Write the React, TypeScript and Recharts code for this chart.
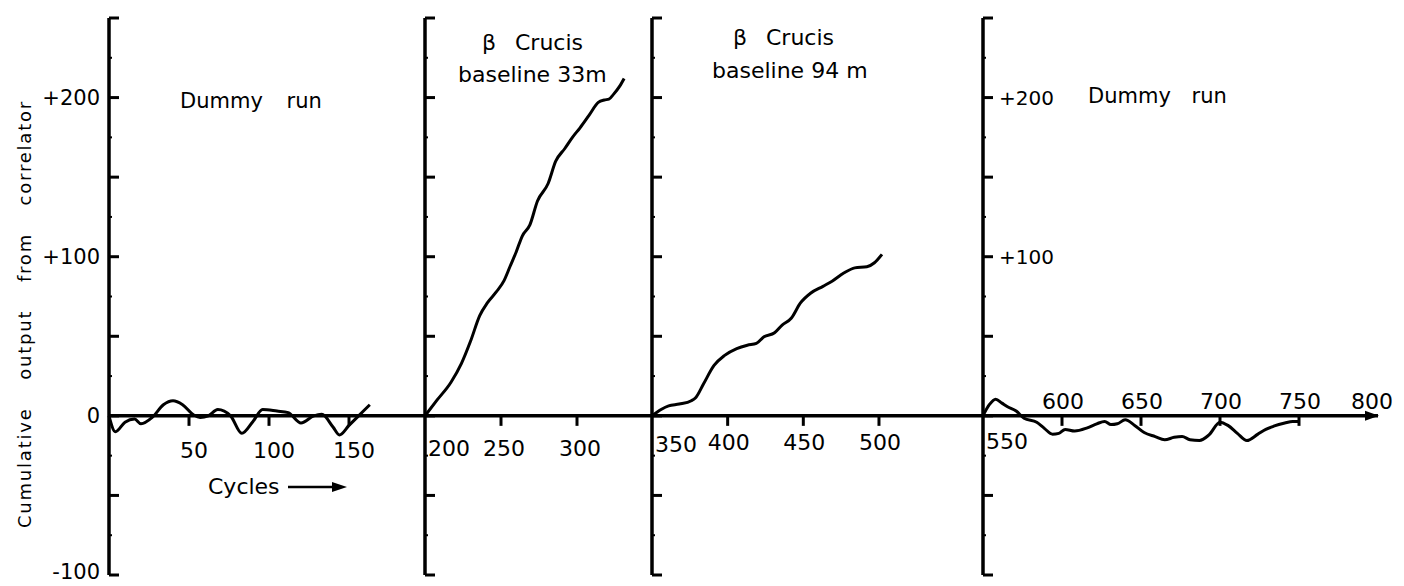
import React from 'react';
import { ComposedChart, Line, XAxis, YAxis, ReferenceLine, ReferenceDot } from 'recharts';

// Cumulative correlator output vs cycles

// left "Dummy run"
const dummyRunACycles = [0, 4, 10, 16, 20, 27, 34, 40, 46, 53, 57, 62, 68, 76, 83, 90, 96, 105, 112, 120, 128, 133, 140, 144, 150, 156, 163];
const dummyRunAOutput = [0, -10, -4, -2, -5, -1, 7, 9.5, 7, 0.5, -1, 0, 4, 0, -11, -3.5, 4, 3, 2, -4.5, 0, 1, -7, -12, -6, 0, 7];

// β Crucis, baseline 33 m
const crucis33Cycles = [200, 208, 217, 224, 230, 236, 241, 247, 252, 256, 260, 264, 269, 274, 281, 286, 292, 297, 302, 308, 314, 318, 321, 324, 328, 331];
const crucis33Output = [0, 10, 21, 33, 47, 63, 71, 78, 85, 94, 103, 113, 120, 135, 146, 160, 168, 175, 181, 189, 197, 198.5, 199, 202, 207, 212];

// β Crucis, baseline 94 m
const crucis94Cycles = [350, 356, 361, 368, 376, 379, 384, 391, 398, 406, 413, 419, 424, 431, 436, 442, 448, 455, 463, 469, 477, 484, 492, 497, 502];
const crucis94Output = [0, 4, 6.3, 7.4, 9.5, 11.6, 20, 31.7, 38, 42.3, 44.4, 45.5, 49.7, 52.2, 57, 61.3, 70.8, 77.2, 81.4, 84.6, 89.9, 93, 93.7, 96.2, 101.5];

// right "Dummy run"
const dummyRunBCycles = [550, 554, 558, 562, 565, 571, 576, 584, 589, 594, 598, 602, 608, 616, 622, 627, 631, 635, 640, 646, 652, 659, 665, 671, 676, 681, 687, 693, 700, 705, 711, 717, 724, 729, 734, 741, 746, 750];
const dummyRunBOutput = [0, 7, 10.5, 8, 6, 3, -1.5, -4, -8, -11.5, -11, -8.5, -9.5, -7.5, -5, -3.5, -5.5, -5, -2.5, -6, -10.5, -13, -15, -13.5, -13, -15, -15.5, -12, -4, -6, -11, -15.5, -11.5, -8.5, -6.5, -4.5, -3.5, -3.5];

// axis ticks
const yTicks = [-100, -75, -50, -25, 0, 25, 50, 75, 100, 125, 150, 175, 200, 225, 250];
const leftYLabels = [200, 100, 0, -100];
const rightYLabels = [200, 100];
const panel1XTicks = [50, 100, 150];
const panel2XTicks = [200, 250, 300];
const panel3XTicks = [350, 400, 450, 500];
const panel4XTicks = [550, 600, 650, 700, 750, 800];

const FONT = '"DejaVu Sans", sans-serif';
const HEIGHT = 586;

const zip = (cs: number[], vs: number[]) => cs.map((c, i) => ({ c, v: vs[i] }));

interface PanelProps {
  left: number;
  axisWidth: number;
  plotWidth: number;
  rightPad?: number;
  domain: [number, number];
  data: { c: number; v: number }[];
  xTicks: number[];
  yLabels?: number[];
  yLabelSide?: 'left' | 'right';
  labelDx: number;
  labelDy: number;
  startLabelDy?: number;
  labelsAbove?: boolean;
  arrow?: boolean;
}

const Panel: React.FC<PanelProps> = ({
  left, axisWidth, plotWidth, rightPad = 0, domain, data, xTicks,
  yLabels = [], yLabelSide = 'left', labelDx, labelDy, startLabelDy = 0, labelsAbove, arrow,
}) => {
  const renderYTick = (p: any) => {
    const { x, y, payload } = p;
    const v = payload.value as number;
    const major = v % 50 === 0;
    const txt = v > 0 ? `+${v}` : `${v}`;
    // bottom label sits on the bracket, keep it inside the frame
    const dy = v === -100 ? '0.2em' : '0.36em';
    return (
      <g>
        <line x1={x} y1={y} x2={x + (major ? 10 : 3)} y2={y} stroke="#000" strokeWidth={major ? 3 : 2} />
        {yLabels.includes(v) && (
          <text
            x={yLabelSide === 'left' ? x - 9 : x + 16}
            y={y}
            dy={dy}
            textAnchor={yLabelSide === 'left' ? 'end' : 'start'}
            fontSize={yLabelSide === 'left' ? 21 : 20}
            fontFamily={FONT}
            fill="#000"
          >
            {txt}
          </text>
        )}
      </g>
    );
  };

  const renderXTick = (t: number) => (p: any) => {
    const { cx, cy } = p;
    const atStart = t === domain[0];
    const atEnd = t === domain[1];
    let tx = cx + labelDx;
    let ty = cy + labelDy;
    if (atStart) {
      tx = cx + 24;
      ty = cy + startLabelDy;
    } else if (labelsAbove) {
      ty = cy - 7;
    }
    if (atEnd) tx = cx - 6;
    return (
      <g>
        {!atStart && !atEnd && <line x1={cx} y1={cy} x2={cx} y2={cy + 10} stroke="#000" strokeWidth={3} />}
        {atEnd && arrow && (
          <polygon points={`${cx + 1},${cy} ${cx - 13},${cy - 5} ${cx - 13},${cy + 5}`} fill="#000" />
        )}
        <text x={tx} y={ty} textAnchor="middle" fontSize={22} fontFamily={FONT} fill="#000">
          {t}
        </text>
      </g>
    );
  };

  return (
    <div style={{ position: 'absolute', left, top: 0 }}>
      <ComposedChart
        width={axisWidth + plotWidth + rightPad}
        height={HEIGHT}
        data={data}
        margin={{ top: 18, bottom: 11, left: 0, right: rightPad }}
      >
        <XAxis dataKey="c" type="number" domain={domain} hide />
        <YAxis
          type="number"
          domain={[-100, 250]}
          ticks={yTicks}
          interval={0}
          width={axisWidth}
          tickSize={0}
          tickMargin={0}
          tickLine={false}
          axisLine={{ stroke: '#000', strokeWidth: 3.5 }}
          tick={renderYTick}
        />
        <ReferenceLine y={0} stroke="#000" strokeWidth={3.5} />
        {xTicks.map((t) => (
          <ReferenceDot key={t} x={t} y={0} r={1} shape={renderXTick(t)} />
        ))}
        <Line type="monotone" dataKey="v" stroke="#000" strokeWidth={3} dot={false} isAnimationActive={false} />
      </ComposedChart>
    </div>
  );
};

export default function App() {
  return (
    <div style={{ position: 'absolute', left: 0, top: 0, width: 1404, height: HEIGHT, background: '#fff' }}>
      <Panel
        left={0} axisWidth={109} plotWidth={316} domain={[0, 197.5]}
        data={zip(dummyRunACycles, dummyRunAOutput)} xTicks={panel1XTicks}
        yLabels={leftYLabels} yLabelSide="left" labelDx={5} labelDy={42}
      />
      <Panel
        left={415} axisWidth={10} plotWidth={228} domain={[200, 350]}
        data={zip(crucis33Cycles, crucis33Output)} xTicks={panel2XTicks}
        labelDx={3} labelDy={40} startLabelDy={40}
      />
      <Panel
        left={642} axisWidth={10} plotWidth={331} domain={[350, 568.75]}
        data={zip(crucis94Cycles, crucis94Output)} xTicks={panel3XTicks}
        labelDx={1} labelDy={34} startLabelDy={36}
      />
      <Panel
        left={973} axisWidth={10} plotWidth={395} rightPad={26} domain={[550, 800]}
        data={zip(dummyRunBCycles, dummyRunBOutput)} xTicks={panel4XTicks}
        yLabels={rightYLabels} yLabelSide="right" labelDx={1} labelDy={33} startLabelDy={33}
        labelsAbove arrow
      />

      {/* titles and axis caption */}
      <svg
        width={1404}
        height={HEIGHT}
        style={{ position: 'absolute', left: 0, top: 0, pointerEvents: 'none' }}
        fontFamily={FONT}
        fill="#000"
      >
        <text
          transform="translate(24,314) rotate(-90)"
          textAnchor="middle"
          dominantBaseline="central"
          fontSize={18}
          letterSpacing={1.8}
          wordSpacing={20}
        >
          Cumulative output from correlator
        </text>
        <text x={180} y={108} fontSize={21}>
          Dummy <tspan dx={17}>run</tspan>
        </text>
        <text x={482} y={50} fontSize={22}>
          β <tspan x={515}>Crucis</tspan>
        </text>
        <text x={458} y={82} fontSize={22}>baseline 33m</text>
        <text x={733} y={45} fontSize={22}>
          β <tspan x={766}>Crucis</tspan>
        </text>
        <text x={712} y={78} fontSize={22}>baseline 94 m</text>
        <text x={1088} y={103} fontSize={21}>
          Dummy <tspan dx={14}>run</tspan>
        </text>
        <text x={208} y={494} fontSize={22}>Cycles</text>
        <line x1={288} y1={487} x2={334} y2={487} stroke="#000" strokeWidth={2.5} />
        <polygon points="347,487 332,482 332,492" fill="#000" />
      </svg>
    </div>
  );
}
